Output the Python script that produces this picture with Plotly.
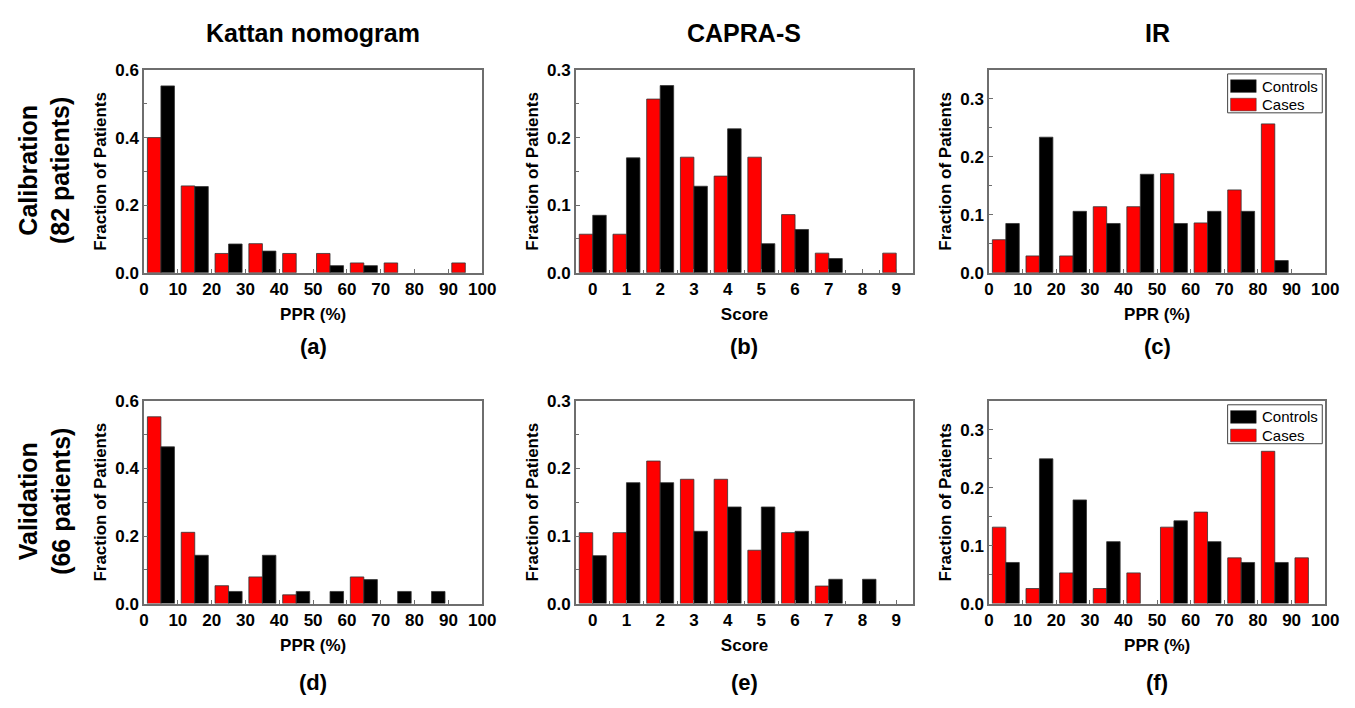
import plotly.graph_objects as go
from plotly.subplots import make_subplots

# ---------------- data ----------------
ppr_bins = [5, 15, 25, 35, 45, 55, 65, 75, 85, 95]
ppr_ticks = [0, 10, 20, 30, 40, 50, 60, 70, 80, 90, 100]
score_bins = [0, 1, 2, 3, 4, 5, 6, 7, 8, 9]

column_titles = ["Kattan nomogram", "CAPRA-S", "IR"]
row_titles = ["Calibration<br>(82 patients)", "Validation<br>(66 patients)"]
panel_letters = ["(a)", "(b)", "(c)", "(d)", "(e)", "(f)"]
series_names = ["Cases", "Controls"]
legend_labels = ["Controls", "Cases"]

kattan_cal_cases = [0.400, 0.257, 0.057, 0.086, 0.057, 0.057, 0.029, 0.029, 0.0, 0.029]
kattan_cal_controls = [0.553, 0.255, 0.085, 0.064, 0.0, 0.021, 0.021, 0.0, 0.0, 0.0]
capra_cal_cases = [0.057, 0.057, 0.257, 0.171, 0.143, 0.171, 0.086, 0.029, 0.0, 0.029]
capra_cal_controls = [0.085, 0.170, 0.277, 0.128, 0.213, 0.043, 0.064, 0.021, 0.0, 0.0]
ir_cal_cases = [0.057, 0.029, 0.029, 0.114, 0.114, 0.171, 0.086, 0.143, 0.257, 0.0]
ir_cal_controls = [0.085, 0.234, 0.106, 0.085, 0.170, 0.085, 0.106, 0.106, 0.021, 0.0]

kattan_val_cases = [0.553, 0.211, 0.053, 0.079, 0.026, 0.0, 0.079, 0.0, 0.0, 0.0]
kattan_val_controls = [0.464, 0.143, 0.036, 0.143, 0.036, 0.036, 0.071, 0.036, 0.036, 0.0]
capra_val_cases = [0.105, 0.105, 0.211, 0.184, 0.184, 0.079, 0.105, 0.026, 0.0, 0.0]
capra_val_controls = [0.071, 0.179, 0.179, 0.107, 0.143, 0.143, 0.107, 0.036, 0.036, 0.0]
ir_val_cases = [0.132, 0.026, 0.053, 0.026, 0.053, 0.132, 0.158, 0.079, 0.263, 0.079]
ir_val_controls = [0.071, 0.250, 0.179, 0.107, 0.0, 0.143, 0.107, 0.071, 0.071, 0.0]

y_max = [0.6, 0.3, 0.35]
y_dtick = [0.2, 0.1, 0.1]
y_minor = [0.1, 0.05, 0.05]

# ---------------- styling ----------------
W, H = 1355, 708
FONT = "Arial, 'Liberation Sans', sans-serif"
RED = "#ff0000"
BLACK = "#000000"
FRAME = "#6e6e6e"

col_px = [(141, 484), (579, 921), (998, 1339)]
row_px = [(62.7, 271), (402.7, 611)]

panels = [
    (0, 0, ppr_bins, kattan_cal_cases, kattan_cal_controls),
    (0, 1, score_bins, capra_cal_cases, capra_cal_controls),
    (0, 2, ppr_bins, ir_cal_cases, ir_cal_controls),
    (1, 0, ppr_bins, kattan_val_cases, kattan_val_controls),
    (1, 1, score_bins, capra_val_cases, capra_val_controls),
    (1, 2, ppr_bins, ir_val_cases, ir_val_controls),
]

fig = make_subplots(rows=2, cols=3)


def outline_widths(vals):
    return [0.8 if v > 0 else 0 for v in vals]


for (r, c, xs, cases, controls) in panels:
    fig.add_trace(
        go.Bar(x=xs, y=cases, name=series_names[0],
               marker=dict(color=RED, line=dict(color="#333333",
                                                width=outline_widths(cases))),
               showlegend=False),
        row=r + 1, col=c + 1)
    fig.add_trace(
        go.Bar(x=xs, y=controls, name=series_names[1],
               marker=dict(color=BLACK, line=dict(color="#333333",
                                                  width=outline_widths(controls))),
               showlegend=False),
        row=r + 1, col=c + 1)

tick_font = dict(family=FONT, size=17, color="black", weight="bold")
title_font = dict(family=FONT, size=17, color="black", weight="bold")

for r in range(2):
    for c in range(3):
        idx = r * 3 + c + 1
        xa = "xaxis" if idx == 1 else f"xaxis{idx}"
        ya = "yaxis" if idx == 1 else f"yaxis{idx}"
        x0, x1 = col_px[c]
        y0, y1 = row_px[r]
        if c == 1:
            xcfg = dict(range=[-0.5, 9.5], tickmode="array", tickvals=score_bins,
                        ticktext=[str(v) for v in score_bins],
                        minor=dict(tickmode="linear", tick0=0.5, dtick=1,
                                   ticks="inside", ticklen=3, tickcolor=FRAME),
                        title=dict(text="Score", font=title_font, standoff=10))
        else:
            xcfg = dict(range=[0, 100], tickmode="array", tickvals=ppr_ticks,
                        ticktext=[str(v) for v in ppr_ticks],
                        title=dict(text="PPR (%)", font=title_font, standoff=10))
        fig.layout[xa].update(
            domain=[x0 / W, x1 / W], showline=True, mirror=True, linecolor=FRAME,
            linewidth=1.5, ticks="inside", ticklen=4, tickcolor=FRAME,
            showgrid=False, zeroline=False, tickfont=tick_font, **xcfg)
        fig.layout[ya].update(
            domain=[1 - y1 / H, 1 - y0 / H], range=[0, y_max[c]],
            tickmode="linear", tick0=0, dtick=y_dtick[c], tickformat=".1f",
            minor=dict(tickmode="linear", tick0=0, dtick=y_minor[c],
                       ticks="inside", ticklen=3, tickcolor=FRAME),
            showline=True, mirror=True, linecolor=FRAME, linewidth=1.5,
            ticks="inside", ticklen=4, tickcolor=FRAME, showgrid=False,
            zeroline=False, tickfont=tick_font,
            title=dict(text="Fraction of Patients", font=title_font, standoff=4))

annotations = []
shapes = []
for c in range(3):
    xc = (col_px[c][0] + col_px[c][1]) / 2 / W
    annotations.append(dict(text=column_titles[c], x=xc, y=1 - 25 / H, xref="paper",
                            yref="paper", showarrow=False, xanchor="center",
                            yanchor="middle",
                            font=dict(family=FONT, size=25, color="black", weight="bold")))
    for r in range(2):
        ly = [347, 692][r]
        annotations.append(dict(text=panel_letters[r * 3 + c], x=xc, y=1 - ly / H,
                                xref="paper", yref="paper", showarrow=False,
                                xanchor="center", yanchor="middle",
                                font=dict(family=FONT, size=22, color="black", weight="bold")))
for r in range(2):
    ry = [166, 506][r]
    annotations.append(dict(text=row_titles[r], x=40 / W, y=1 - ry / H, xref="paper",
                            yref="paper", showarrow=False, textangle=-90,
                            xanchor="center", yanchor="middle",
                            font=dict(family=FONT, size=25, color="black", weight="bold")))

# legend boxes (panels c and f), drawn as a key in paper space
legend_colors = [BLACK, RED]
for top in [66.7, 406.7]:
    bx0, bx1 = 1240, 1336
    shapes.append(dict(type="rect", xref="paper", yref="paper",
                       x0=bx0 / W, x1=bx1 / W, y0=1 - (top + 40) / H, y1=1 - top / H,
                       line=dict(color="#444444", width=1), fillcolor="white",
                       layer="above"))
    for i, (lab, col) in enumerate(zip(legend_labels, legend_colors)):
        sy0 = top + 6 + i * 19
        shapes.append(dict(type="rect", xref="paper", yref="paper",
                           x0=1243 / W, x1=1269 / W,
                           y0=1 - (sy0 + 13) / H, y1=1 - sy0 / H,
                           line=dict(color="#333333", width=0.5), fillcolor=col,
                           layer="above"))
        annotations.append(dict(text=lab, x=1273 / W, y=1 - (sy0 + 6.5) / H,
                                xref="paper", yref="paper", showarrow=False,
                                xanchor="left", yanchor="middle",
                                font=dict(family=FONT, size=15, color="black")))

fig.update_layout(
    width=W, height=H, autosize=False,
    margin=dict(l=0, r=0, t=0, b=0),
    paper_bgcolor="white", plot_bgcolor="white",
    barmode="group", bargap=0.2, bargroupgap=0,
    annotations=annotations, shapes=shapes,
    showlegend=False,
    font=dict(family=FONT, color="black"),
)

fig.write_html("out.html", config={"displayModeBar": False},
               post_script="document.body.style.margin='0';document.body.style.overflow='hidden';")
